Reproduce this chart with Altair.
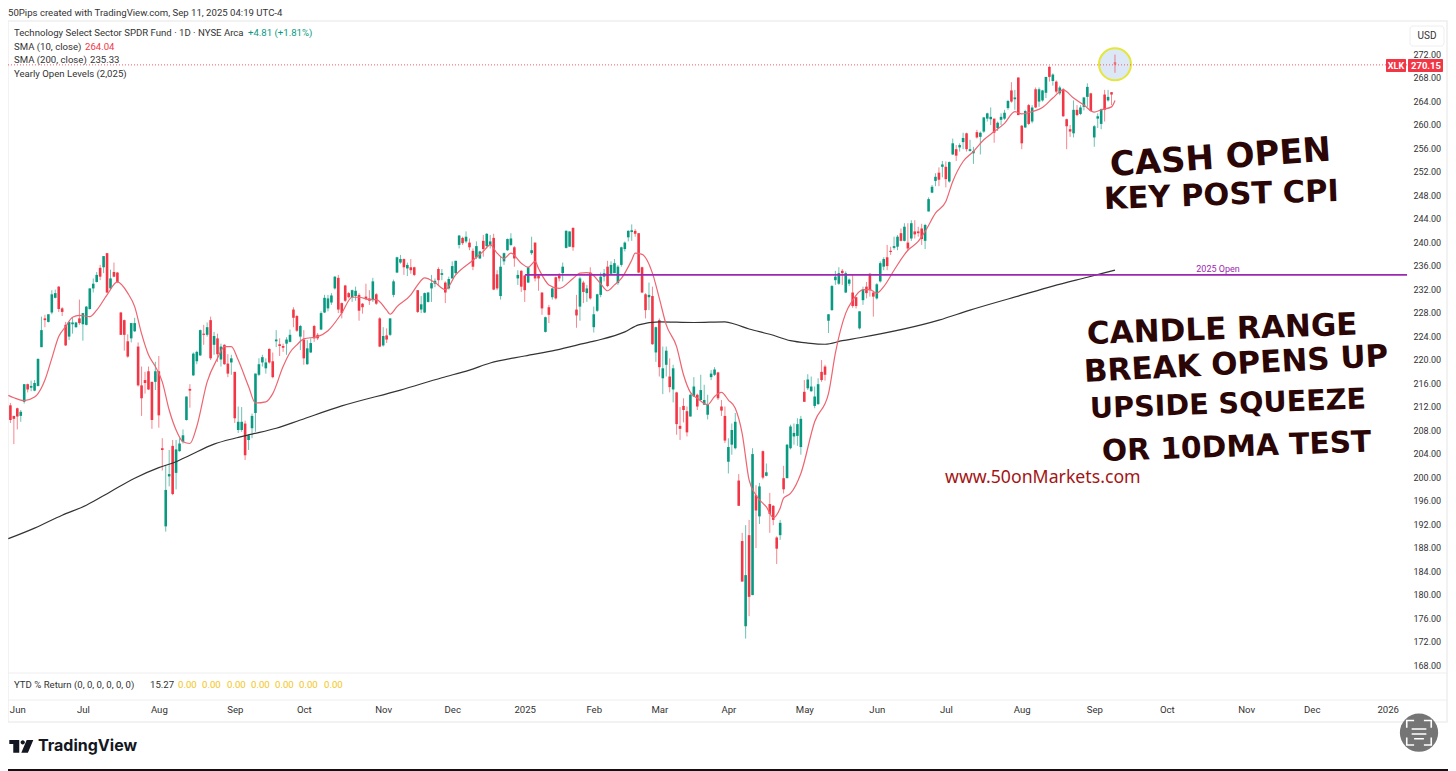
import altair as alt
import pandas as pd

highs = [212.6,210.4,211.8,211.4,215.8,215.9,216.4,216.5,220.2,227.3,
227.6,227.7,231.8,231.9,232.5,228.9,226.4,226.4,227.2,226.4,
230.2,227.9,229.1,232.1,233.8,234.9,236.1,237.6,238.1,235.3,
236.5,234.9,228.1,226.8,224.3,226.2,227.1,222.9,218.8,217.9,
218.8,216.2,219.6,220.6,206.6,202.0,204.6,206.3,206.3,206.6,
208.1,213.7,215.8,221.2,221.5,225.1,225.9,226.3,227.3,224.7,
224.4,222.7,222.6,220.9,220.8,217.9,212.0,211.9,209.6,207.3,
210.8,217.6,220.2,220.8,220.2,221.9,221.2,225.0,223.6,222.7,
223.8,225.1,228.9,227.6,225.9,225.0,223.3,223.6,225.9,224.5,
228.2,231.0,231.0,231.3,234.2,234.4,229.7,232.7,231.5,231.9,
232.4,231.3,229.6,232.9,231.8,233.9,231.3,227.2,225.5,225.3,
227.0,233.6,237.5,237.8,237.2,236.5,237.1,235.8,231.8,230.8,
231.4,231.5,234.4,233.8,235.7,235.4,233.3,234.1,236.7,236.8,
241.2,240.9,241.8,240.6,238.9,240.1,238.5,241.2,241.5,241.2,
241.4,235.2,237.5,238.2,240.6,241.5,239.3,235.2,235.2,234.4,
235.8,240.9,239.9,234.4,231.4,227.3,229.3,232.3,234.1,234.7,
236.5,242.0,241.8,242.5,231.0,234.1,233.4,232.7,
235.7,229.0,231.2,234.8,235.4,236.8,236.7,237.1,236.1,239.2,
240.1,242.0,243.0,242.2,241.5,235.8,231.3,233.1,232.4,225.6,
227.0,222.2,222.2,220.2,219.1,214.5,211.9,213.4,212.0,214.2,
217.0,214.2,217.4,215.7,214.0,218.2,218.7,217.9,213.1,212.0,
206.6,209.1,210.9,200.5,190.5,191.8,192.7,204.9,198.6,199.0,
204.5,202.3,197.3,195.2,189.9,192.7,201.9,205.6,208.9,209.1,
210.0,210.4,216.5,217.5,217.1,215.4,216.8,219.9,219.1,227.7,
232.7,235.1,235.7,235.4,235.0,233.8,234.4,230.7,228.2,232.4,
233.2,234.7,231.7,233.0,236.7,237.4,239.5,239.2,240.9,241.2,
242.3,243.2,243.2,243.7,243.7,242.6,243.1,243.1,247.6,249.7,
251.7,252.7,253.8,253.7,253.7,257.6,256.5,256.8,258.6,258.6,
257.4,256.2,259.1,258.8,261.3,262.0,262.9,261.0,260.5,261.9,
262.5,264.2,267.2,265.9,268.0,259.9,262.5,263.5,263.3,266.3,
266.3,265.9,268.1,270.0,268.7,267.5,266.6,266.2,261.0,259.9,
264.1,263.3,263.3,264.7,267.0,265.4,259.9,261.9,262.7,265.9,
265.9,265.5,271.9]

lows = [209.2,205.6,208.1,209.4,212.5,214.4,214.6,214.6,215.4,222.1,
225.5,226.3,227.7,230.4,228.1,227.4,222.3,223.3,224.4,225.4,
225.9,223.2,225.8,228.5,231.4,233.1,233.5,234.7,231.3,231.8,
234.0,233.0,224.2,221.5,220.3,222.9,224.7,215.4,210.4,214.2,
214.8,208.2,214.8,208.4,201.1,190.7,198.4,196.9,197.9,204.3,
205.7,209.6,211.8,217.2,219.2,220.6,222.5,223.9,219.9,220.8,
219.6,218.8,219.1,217.0,217.4,209.2,207.5,207.7,202.9,204.6,
206.6,207.7,217.2,218.8,217.6,219.3,216.8,222.1,220.6,221.3,
220.8,222.9,225.5,224.7,221.6,219.1,219.1,221.1,223.0,223.3,
225.0,227.9,228.2,229.3,231.9,227.9,227.0,229.8,230.4,229.8,
230.0,226.6,227.8,230.1,229.3,229.8,229.3,222.1,222.2,222.8,
224.0,230.6,234.7,236.3,234.4,234.2,234.6,234.2,227.9,227.9,
227.9,229.7,229.8,232.3,232.5,233.5,229.6,231.9,233.8,234.4,
238.9,239.5,239.8,238.6,235.2,237.1,237.1,237.5,238.9,238.9,
231.8,231.8,230.2,236.1,238.5,239.3,235.8,232.7,231.5,229.8,
233.0,237.8,233.3,231.7,227.6,224.6,226.2,230.2,230.2,233.3,
233.3,238.9,239.2,238.5,225.4,226.6,229.6,229.8,
230.2,224.6,228.1,230.6,233.3,232.3,234.4,234.7,232.7,235.8,
238.4,240.1,240.2,240.9,234.7,231.3,227.0,228.4,222.5,219.6,
217.1,214.1,217.1,214.4,212.7,207.2,206.3,209.3,206.9,210.3,
213.7,211.4,213.1,212.3,209.8,216.5,217.2,213.1,210.4,205.8,
200.6,203.8,204.7,195.1,182.2,172.5,176.3,179.9,187.9,192.0,
199.6,200.1,190.5,191.8,185.2,189.3,197.2,199.8,204.7,205.5,
205.3,203.8,212.8,214.8,214.5,211.7,212.3,216.2,216.4,224.5,
228.3,232.7,232.7,232.7,231.3,232.5,228.8,228.7,225.1,229.3,
230.4,230.7,227.3,230.2,233.1,235.2,235.2,237.8,238.7,238.6,
240.1,240.1,238.6,240.2,240.6,240.9,239.5,238.8,245.2,248.3,
249.5,249.5,251.0,249.3,250.1,254.8,253.8,255.4,255.8,255.4,
255.4,253.3,257.6,254.9,258.6,260.5,259.9,256.9,258.9,259.9,
260.8,262.5,263.7,262.5,261.6,255.8,259.4,259.9,260.2,262.8,
263.0,263.9,264.5,267.3,266.6,265.3,265.0,261.3,255.8,257.9,
257.8,261.4,261.6,262.4,263.0,262.2,256.2,259.4,259.2,260.5,
263.9,263.3,268.8]

opens = [212.2,210.4,211.7,210.4,212.8,215.8,215.2,214.7,215.5,222.1,
227.0,226.4,228.0,230.5,232.4,228.7,225.9,223.9,226.0,225.5,
227.0,226.0,225.9,228.6,232.1,233.2,235.6,235.7,238.1,232.1,
234.9,234.8,228.0,226.7,223.1,223.6,224.8,222.2,215.6,216.5,
218.0,216.2,216.2,218.0,204.9,191.6,200.1,205.3,200.7,204.4,
206.0,209.7,215.0,217.3,219.7,220.7,224.4,224.2,226.7,222.5,
223.6,220.0,222.5,219.3,219.5,217.9,208.0,208.0,209.1,206.3,
208.3,210.9,217.4,219.5,218.5,221.8,219.7,223.1,222.6,222.3,
222.7,223.0,228.5,227.4,223.9,223.4,219.2,221.2,225.7,224.2,
225.1,228.0,228.7,229.7,232.1,233.9,229.6,232.6,231.3,230.6,
230.8,231.0,229.5,230.7,230.4,230.2,231.1,227.0,222.4,224.1,
224.2,231.0,234.8,236.5,237.1,235.5,235.7,235.7,231.8,228.5,
228.0,229.8,232.1,232.9,235.4,234.4,233.1,232.1,233.8,234.7,
239.5,240.7,240.1,239.9,238.5,237.4,237.2,240.2,239.3,239.5,
240.7,234.5,230.8,236.7,238.6,239.5,239.1,233.8,235.1,234.3,
233.1,238.1,239.9,234.3,231.4,224.7,228.9,230.6,234.0,234.3,
234.7,239.0,239.2,242.4,228.5,229.0,233.1,231.3,
234.8,225.5,228.3,231.0,234.1,235.8,234.6,234.7,233.0,236.1,
238.8,240.8,241.7,241.9,241.5,235.7,231.1,230.6,230.8,221.2,
226.7,216.8,219.1,217.1,214.9,214.4,208.7,212.1,211.2,210.3,
213.7,214.0,213.1,212.3,210.6,217.0,217.4,217.8,212.0,210.4,
202.6,205.5,204.9,199.4,189.1,174.6,190.1,179.9,196.9,193.3,
204.4,200.2,195.4,195.1,189.7,190.1,199.8,199.8,204.9,206.9,
207.0,205.1,214.5,215.1,214.6,212.1,212.4,217.9,218.8,226.6,
228.4,233.5,232.9,235.1,231.4,232.9,231.4,230.6,225.3,230.1,
232.4,234.6,231.4,230.4,233.3,235.8,237.4,238.5,239.0,239.2,
241.5,240.2,239.9,240.6,241.8,241.8,242.3,240.2,245.2,248.4,
250.4,251.8,252.8,252.8,250.3,254.9,255.8,256.1,257.0,258.5,
255.5,255.1,258.7,257.9,258.8,261.0,260.9,261.0,259.4,260.8,
261.0,262.8,265.8,264.3,268.0,259.8,259.5,263.3,260.5,266.0,
263.9,264.1,265.4,269.8,267.4,267.3,265.3,266.0,260.9,259.2,
258.5,262.5,261.8,263.0,264.7,265.3,257.8,261.0,260.1,265.1,
264.1,265.5,270.6]

closes = [209.7,209.9,210.3,211.1,215.8,214.9,215.5,216.0,220.1,225.0,
226.7,227.7,231.1,231.3,228.6,228.1,222.4,226.4,226.3,226.3,
226.2,227.9,229.0,232.1,232.9,234.4,234.1,237.6,231.4,233.8,
234.1,233.2,224.2,224.2,220.5,226.2,226.2,215.6,213.4,216.0,
214.9,209.7,218.0,210.5,204.6,197.8,200.5,197.1,204.7,205.7,
207.1,213.7,214.7,221.0,221.3,225.0,224.2,225.5,220.2,224.0,
220.9,222.2,219.2,217.6,220.2,210.0,209.4,209.4,203.7,207.1,
210.4,217.6,219.2,220.4,219.5,219.5,217.0,223.4,222.3,222.0,
223.4,224.2,227.1,224.9,225.7,220.2,221.9,222.8,223.6,223.6,
227.9,230.5,230.4,230.9,234.1,228.5,227.9,230.0,230.6,231.8,
231.7,228.3,228.9,230.3,230.0,233.3,229.5,222.2,224.0,223.4,
227.0,233.3,237.4,237.1,235.7,236.1,235.2,234.4,228.1,229.4,
231.3,231.4,233.0,233.4,233.5,234.7,231.4,233.7,235.9,236.8,
241.1,239.8,240.9,239.1,235.8,239.3,238.4,238.8,241.4,240.1,
231.9,232.1,235.8,238.1,240.5,240.6,237.2,234.4,232.4,231.8,
235.7,238.6,233.8,233.8,228.7,227.2,227.6,232.1,230.4,233.8,
235.8,241.9,241.8,239.1,227.5,233.8,231.5,232.1,
230.4,227.7,231.1,234.1,234.7,232.5,236.1,236.4,235.8,239.1,
239.9,241.9,242.0,241.4,234.8,231.4,228.4,231.0,222.6,225.5,
218.7,218.5,221.5,215.3,218.5,209.0,208.2,211.4,207.6,214.0,
215.4,212.0,214.8,213.1,212.3,217.6,218.3,213.4,211.3,206.2,
205.1,208.0,209.4,195.1,182.2,183.3,179.6,203.9,194.3,198.4,
199.9,200.8,193.7,192.7,187.8,192.2,197.9,205.5,208.6,207.5,
209.0,209.9,212.8,216.6,215.4,213.7,215.8,216.5,217.4,227.7,
232.5,234.1,234.7,234.7,234.7,233.6,229.1,229.1,228.2,231.9,
231.3,231.8,230.7,232.8,236.4,237.1,235.9,238.3,239.3,240.9,
240.2,242.6,238.9,243.2,241.3,241.5,240.5,242.9,247.3,249.4,
251.1,250.6,253.2,250.7,253.6,256.8,254.7,256.5,257.7,255.8,
255.8,255.5,257.8,258.6,261.2,261.9,261.3,258.6,260.3,261.3,
262.0,264.0,263.9,264.6,261.6,256.8,262.3,260.1,262.9,262.9,
266.0,265.8,268.1,268.1,268.5,265.6,266.3,261.4,259.7,258.8,
262.5,261.6,262.9,264.6,266.4,262.3,259.7,261.4,262.6,262.5,
264.7,265.1,270.2]

sma10_idx = [-0.6,1,4,7,8,10,12,14,16,18,20,23,25,28,31,34,36,38,40,42,44,46,48,50,52,54,57,60,62,64,66,69,71,74,76,79,81,83,85,89,92,96,99,101,104,106,109,110,112,116,118,120,123,126,129,134,137,139,141,143,145,148,150,152,153,156,159,163,165,167,168,171,173,175,177,180,181,183,186,188,190,193,195,197,199,202,204,206,208,210,212,214,216,219,221,223,224,226,229,233,237,239,242,244,247,249,251,253,256,260,263,265,268,271,273,276,279,282,285,288,291,293,296,299,302,305,308,311,314,316,319,320]
sma10_val = [213.9,213.5,213.0,213.6,214.2,216.5,220.2,223.9,225.6,227.2,227.5,227.3,228.4,231.0,233.2,231.3,229.0,224.4,220.8,218.8,216.2,211.4,208.0,206.0,205.7,208.6,216.2,220.2,222.2,222.2,219.9,215.4,212.6,212.8,214.2,218.8,221.2,222.5,223.5,223.9,224.9,227.9,230.6,230.6,230.2,230.2,228.4,227.7,229.0,231.0,232.7,233.9,233.1,231.9,234.4,236.9,238.4,239.5,238.1,237.2,238.1,236.4,235.7,236.7,235.5,232.7,232.1,233.8,234.7,234.8,234.7,232.9,231.7,232.7,233.8,236.9,238.1,237.9,234.7,230.4,225.9,222.2,217.4,214.4,213.4,212.3,213.7,214.4,213.1,211.7,207.4,199.5,196.9,194.9,193.1,194.7,196.4,197.2,200.6,209.4,214.2,221.1,227.9,230.1,231.9,231.9,231.3,232.4,235.2,238.6,240.1,241.8,244.9,246.9,250.3,253.7,255.4,257.4,258.8,260.2,262.2,261.8,262.2,262.9,264.5,265.9,264.5,263.3,262.1,262.5,263.0,264.1]

sma200_idx = [-0.6,7,15,22,29,36,43,48,52,59,65,70,77,84,96,113,125,133,139,149,158,168,171,178,182,188,198,207,210,214,220,226,231,236,241,246,269,278,292,302,312,320]
sma200_val = [189.5,191.3,193.5,195.2,197.5,199.8,201.6,202.6,203.7,205.6,206.6,207.3,208.3,209.7,212.1,214.8,216.9,218.2,219.4,220.6,221.6,223.0,223.4,224.7,225.9,226.4,226.3,226.4,226.0,225.2,224.3,223.2,222.8,222.6,223.2,223.7,226.7,228.4,230.8,232.5,234.0,235.2]

month_idx = [2,21,43,65,85,108,128,149,169,188,208,230,251,271,293,314,335,358,377,399]
month_lab = ["Jun","Jul","Aug","Sep","Oct","Nov","Dec","2025","Feb","Mar","Apr","May","Jun","Jul","Aug","Sep","Oct","Nov","Dec","2026"]
price_ticks = list(range(168, 276, 4))
open_2025 = 234.4
open_start = 149.1
last_price = 270.15
plot_end = 404.6
ytd_zero_x = [178, 202, 227, 251, 275, 299, 324]

GREEN = "#089981"
RED = "#f23645"
FONT = "Roboto"
DOMX = [-0.695, 404.6]
DOMY = [166.98, 277.447]
PW, PH = 1399, 649
TS = 9.6

df = pd.DataFrame({"i": range(len(opens)), "o": opens, "h": highs, "l": lows, "c": closes})
df["dir"] = ["up" if c >= o else "down" for o, c in zip(opens, closes)]
df["fade"] = [1 if i == len(opens) - 1 else 0 for i in range(len(opens))]

labexpr = "[" + ",".join(f"'{m}'" for m in month_lab) + "][indexof([" + ",".join(map(str, month_idx)) + "],datum.value)]"
x_axis = alt.Axis(values=month_idx, labelExpr=labexpr, title=None, grid=False, domain=False, ticks=False,
                  labelPadding=33, labelFontSize=TS, labelFont=FONT, labelColor="#333", labelOverlap=False,
                  labelFlush=False, labelAngle=0,
                  labelFontWeight=alt.condition("datum.label=='2025'||datum.label=='2026'", alt.value("bold"), alt.value("normal")))
y_axis = alt.Axis(values=price_ticks, format=".2f", title=None, grid=False, domain=False, ticks=False, orient="right",
                  labelPadding=6, labelFontSize=9, labelFont=FONT, labelColor="#333", labelOverlap=False, labelFlush=False)
xs = alt.Scale(domain=DOMX, nice=False, zero=False, padding=0)
ys = alt.Scale(domain=DOMY, nice=False, zero=False, padding=0)
X = lambda f="i": alt.X(f"{f}:Q", scale=xs, axis=x_axis)
Y = lambda f: alt.Y(f"{f}:Q", scale=ys, axis=y_axis)
col = alt.Color("dir:N", scale=alt.Scale(domain=["up", "down"], range=[GREEN, RED]), legend=None)

one = alt.Data(values=[{"a": 1}])

def txt(s, x, y, size=TS, color="#333", weight="normal", font=FONT, align="left", angle=0):
    kw = {}
    if angle:
        kw["angle"] = angle
    return alt.Chart(one).mark_text(text=s, fontSize=size, color=color, fontWeight=weight, font=font,
                                    align=align, baseline="middle", **kw).encode(
        x=alt.value(x - 8), y=alt.value(y - 22))

def box(x0, x1, y0, y1, fill="transparent", stroke=None, sw=1, radius=0):
    kw = {"fill": fill}
    if stroke:
        kw.update(stroke=stroke, strokeWidth=sw)
    if radius:
        kw["cornerRadius"] = radius
    return alt.Chart(one).mark_rect(**kw).encode(x=alt.value(x0 - 8), x2=alt.value(x1 - 8),
                                                  y=alt.value(y0 - 22), y2=alt.value(y1 - 22))

def rule_h(x0, x1, y, color="#eeeeee", w=1):
    return alt.Chart(one).mark_rule(color=color, strokeWidth=w).encode(
        x=alt.value(x0 - 8), x2=alt.value(x1 - 8), y=alt.value(y - 22))

circle_df = pd.DataFrame({"i": [320], "p": [270.24]})
circle = alt.Chart(circle_df).mark_point(shape="circle", size=1020, filled=True, fill="#dde8f6", stroke="#e4e63a",
                                         strokeWidth=2, opacity=1).encode(x=X(), y=Y("p"))

wick = alt.Chart(df).mark_rule(strokeWidth=1, opacity=0.6).encode(x=X(), y=Y("h"), y2="l:Q", color=col)
body = alt.Chart(df).mark_bar(size=2.6).encode(x=X(), y=Y("o"), y2="c:Q", color=col,
                                               opacity=alt.condition("datum.fade==1", alt.value(0.55), alt.value(1)))

s10 = pd.DataFrame({"i": sma10_idx, "v": sma10_val})
s200 = pd.DataFrame({"i": sma200_idx, "v": sma200_val})
line10 = alt.Chart(s10).mark_line(color="#ee6470", strokeWidth=1.2, interpolate="monotone").encode(x=X(), y=Y("v"))
line200 = alt.Chart(s200).mark_line(color="#333333", strokeWidth=1.2, interpolate="monotone").encode(x=X(), y=Y("v"))

purple = alt.Chart(pd.DataFrame({"i": [open_start], "i2": [plot_end], "p": [open_2025]})).mark_rule(
    color="#9c27b0", strokeWidth=1.6).encode(x=X(), x2="i2:Q", y=Y("p"))
lastline = alt.Chart(pd.DataFrame({"i": [DOMX[0]], "i2": [plot_end], "p": [last_price]})).mark_rule(
    color=RED, strokeWidth=1, strokeDash=[1, 2], opacity=0.8).encode(x=X(), x2="i2:Q", y=Y("p"))

HAND = "DejaVu Sans"
HC = "#2a0606"
layers = [
    box(8, 1447, 21, 722, stroke="#eeeeee", sw=1.5),
    rule_h(8, 1447, 673), rule_h(8, 1447, 700),
    circle, lastline, wick, body, line200, line10, purple,
    txt("2025 Open", 1218, 269, size=9, color="#9c27b0", align="center"),
    txt("50Pips created with TradingView.com, Sep 11, 2025 04:19 UTC-4", 8, 12.5),
    txt("Technology Select Sector SPDR Fund · 1D · NYSE Arca", 14, 33),
    txt("+4.81 (+1.81%)", 248, 33, color=GREEN),
    txt("SMA (10, close)", 14, 47),
    txt("264.04", 85, 47, color=RED),
    txt("SMA (200, close)", 14, 60),
    txt("235.33", 90, 60),
    txt("Yearly Open Levels (2,025)", 14, 74),
    txt("YTD % Return (0, 0, 0, 0, 0, 0)", 14, 685),
    txt("15.27", 150, 685),
]
for zx in ytd_zero_x:
    layers.append(txt("0.00", zx, 685, color="#f5c518"))
layers += [
    box(1410, 1444, 26, 46, fill="#ffffff", stroke="#eeeeee", sw=1, radius=3),
    txt("USD", 1427, 36, size=10, align="center"),
    box(1386, 1406, 59, 72, fill=RED, radius=1),
    txt("XLK", 1396, 65.5, size=9, color="#ffffff", align="center", weight="bold"),
    box(1408, 1443, 59, 72, fill=RED, radius=1),
    txt("270.15", 1426, 65.5, size=9.5, color="#ffffff", align="center", weight="bold"),
    txt("CASH OPEN", 1110, 166, size=34, color=HC, weight="bold", font=HAND, angle=356),
    txt("KEY POST CPI", 1104, 200, size=30.5, color=HC, weight="bold", font=HAND, angle=358),
    txt("CANDLE RANGE", 1087, 335, size=31, color=HC, weight="bold", font=HAND, angle=358),
    txt("BREAK OPENS UP", 1084, 373, size=31, color=HC, weight="bold", font=HAND, angle=357),
    txt("UPSIDE SQUEEZE", 1090, 409, size=28.6, color=HC, weight="bold", font=HAND, angle=358),
    txt("OR 10DMA TEST", 1102, 452, size=29.7, color=HC, weight="bold", font=HAND, angle=358),
    txt("www.50onMarkets.com", 945, 478, size=17.7, color="#a31515", font="Noto Sans"),
    txt("TradingView", 38, 746, size=16, color="#131722", weight="bold", font="Inter"),
]

logo_path = ("M-1,-0.53L-0.17,-0.53L-0.17,0.53L-0.67,0.53L-0.67,-0.19L-1,-0.19Z"
             "M0.3,-0.33A0.18,0.18 0 1 1 -0.06,-0.33A0.18,0.18 0 1 1 0.3,-0.33Z"
             "M0.45,-0.53L1,-0.53L0.55,0.53L0,0.53Z")
logo = alt.Chart(one).mark_point(shape=logo_path, size=576, filled=True, fill="#131722", opacity=1, strokeWidth=0).encode(
    x=alt.value(21.3 - 8), y=alt.value(746.3 - 22))
btn = alt.Chart(one).mark_point(shape="circle", size=1466, filled=True, fill="#757575", opacity=1).encode(
    x=alt.value(1419 - 8), y=alt.value(732.7 - 22))
icon_path = ("M-1,-0.4L-1,-1L-0.4,-1M0.4,-1L1,-1L1,-0.4M1,0.4L1,1L0.4,1M-0.4,1L-1,1L-1,0.4"
             "M-0.6,-0.3L0.6,-0.3M-0.6,0.1L0.6,0.1M-0.4,0.5L0.4,0.5")
icon = alt.Chart(one).mark_point(shape=icon_path, size=600, filled=False, stroke="#ffffff", strokeWidth=1.6, opacity=1).encode(
    x=alt.value(1419 - 8), y=alt.value(732.7 - 22))
bottom_rule = rule_h(0, 1448, 770, color="#111111", w=2)
layers += [logo, btn, icon, bottom_rule]

chart = alt.layer(*layers).properties(
    width=PW, height=PH,
    padding={"left": 0, "top": 14, "right": 41, "bottom": 100},
    autosize=alt.AutoSizeParams(type="none"),
).configure_view(stroke=None)

chart.save("out.html", embed_options={"renderer": "svg", "actions": False})
